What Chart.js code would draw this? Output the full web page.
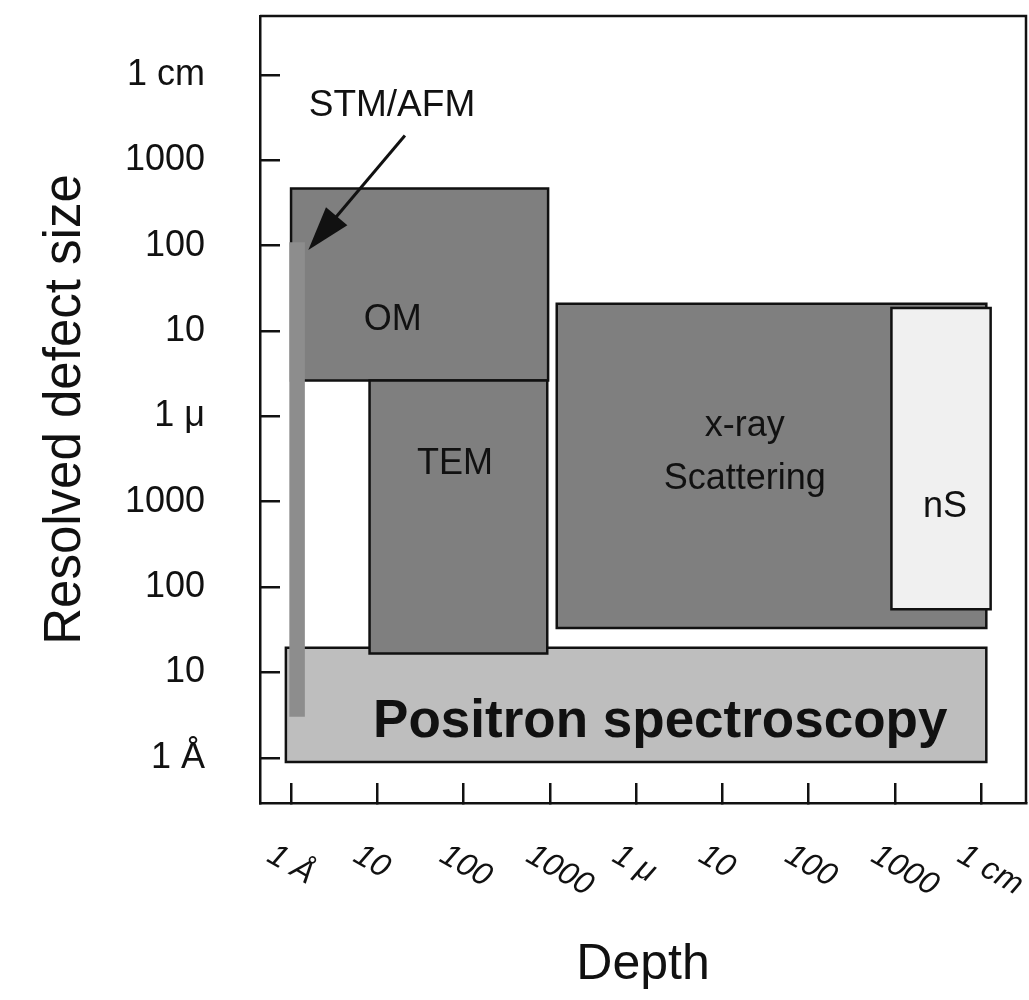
<!DOCTYPE html>
<html>
<head>
<meta charset="utf-8">
<script src="https://cdn.jsdelivr.net/npm/chart.js@4.4.0/dist/chart.umd.min.js"></script>
<style>
  html, body { margin: 0; padding: 0; background: #fff; }
  #wrap { width: 1029px; height: 1000px; }
</style>
</head>
<body>
<div id="wrap"><canvas id="methodsChart"></canvas></div>
<script>
// values are decades above 1 Angstrom (0 = 1 Å, 4 = 1 µm, 8 = 1 cm)
const depthTicks = ['1 Å', '10', '100', '1000', '1 μ', '10', '100', '1000', '1 cm'];
const sizeTicks = ['1 Å', '10', '100', '1000', '1 μ', '10', '100', '1000', '1 cm'];

// drawn in this order, last one on top
const methods = ['Positron spectroscopy', 'OM', 'TEM', 'x-ray Scattering', 'nS', 'STM/AFM'];
const depthMin = [-0.06, 0.0, 0.91, 3.08, 6.96, -0.02];
const depthMax = [8.06, 2.98, 2.97, 8.06, 8.11, 0.16];
const sizeMin = [-0.05, 4.42, 1.22, 1.52, 1.74, 0.48];
const sizeMax = [1.29, 6.67, 4.42, 5.32, 5.27, 6.04];

// label text for each box
const boxText = [['Positron spectroscopy'], ['OM'], ['TEM'], ['x-ray', 'Scattering'], ['nS'], ['STM/AFM']];

const fillColors = ['#bebebe', '#7f7f7f', '#7f7f7f', '#7f7f7f', '#f0f0f0', '#8d8d8d'];
const edgeColors = ['#111', '#111', '#111', '#111', '#111', 'rgba(0,0,0,0)'];
const fontFamily = '"Liberation Sans", Arial, Helvetica, sans-serif';
Chart.defaults.font.family = fontFamily;

// where the texts sit (data units) and the STM/AFM arrow
const textSpots = [
    { x: 4.28, y: 0.42, size: 53, bold: true },
    { x: 1.18, y: 5.13, size: 36 },
    { x: 1.90, y: 3.44, size: 36 },
    { x: 5.26, y: 3.58, size: 36, gap: 0.62 },
    { x: 7.58, y: 2.94, size: 36 },
    { x: 1.17, y: 7.64, size: 37 }
];
const arrowFrom = [1.32, 7.29];
const arrowTo = [0.20, 5.95];

const datasets = methods.map((name, i) => ({
    label: name,
    data: [
        { x: depthMin[i], y: sizeMin[i] },
        { x: depthMin[i], y: sizeMax[i] },
        { x: depthMax[i], y: sizeMax[i] },
        { x: depthMax[i], y: sizeMin[i] },
        { x: depthMin[i], y: sizeMin[i] }
    ],
    showLine: true,
    fill: 'shape',
    backgroundColor: fillColors[i],
    borderColor: edgeColors[i],
    borderWidth: 2.5,
    borderJoinStyle: 'miter',
    borderCapStyle: 'square',
    pointRadius: 0,
    pointHoverRadius: 0,
    tension: 0,
    order: methods.length - i
}));

const decorations = {
    id: 'decorations',
    afterDatasetsDraw(chart) {
        const { ctx, chartArea: a, scales: { x, y } } = chart;
        ctx.save();

        // top and right side of the frame
        ctx.strokeStyle = '#111';
        ctx.lineWidth = 2.5;
        ctx.beginPath();
        ctx.moveTo(a.left, a.top);
        ctx.lineTo(a.right, a.top);
        ctx.lineTo(a.right, a.bottom);
        ctx.stroke();

        // box labels
        ctx.fillStyle = '#111';
        ctx.textAlign = 'center';
        ctx.textBaseline = 'middle';
        textSpots.forEach((s, i) => {
            ctx.font = (s.bold ? 'bold ' : '') + s.size + 'px ' + fontFamily;
            const lines = boxText[i];
            lines.forEach((t, k) => {
                const off = s.gap ? (k - (lines.length - 1) / 2) * s.gap : 0;
                ctx.fillText(t, x.getPixelForValue(s.x), y.getPixelForValue(s.y - off));
            });
        });

        // arrow to the STM/AFM strip
        const x0 = x.getPixelForValue(arrowFrom[0]), y0 = y.getPixelForValue(arrowFrom[1]);
        const x1 = x.getPixelForValue(arrowTo[0]), y1 = y.getPixelForValue(arrowTo[1]);
        const ang = Math.atan2(y1 - y0, x1 - x0);
        const head = 44, half = 14;
        const c = Math.cos(ang), sn = Math.sin(ang);
        ctx.lineWidth = 3;
        ctx.beginPath();
        ctx.moveTo(x0, y0);
        ctx.lineTo(x1 - head * 0.8 * c, y1 - head * 0.8 * sn);
        ctx.stroke();
        ctx.beginPath();
        ctx.moveTo(x1, y1);
        ctx.lineTo(x1 - head * c + half * sn, y1 - head * sn - half * c);
        ctx.lineTo(x1 - head * c - half * sn, y1 - head * sn + half * c);
        ctx.closePath();
        ctx.fill();

        // slanted depth labels under the axis
        ctx.font = 'italic 32px ' + fontFamily;
        ctx.textAlign = 'left';
        ctx.textBaseline = 'top';
        depthTicks.forEach((t, i) => {
            ctx.save();
            ctx.translate(x.getPixelForValue(i) - 13, a.bottom + 36);
            ctx.rotate(Math.PI / 6);
            ctx.fillText(t, 0, 0);
            ctx.restore();
        });

        ctx.restore();
    }
};

const axisGrid = { drawOnChartArea: false, drawTicks: true, tickLength: -20, color: '#111', lineWidth: 2.5 };
const axisBorder = { display: true, color: '#111', width: 2.5 };

const methodsChart = new Chart(document.getElementById('methodsChart').getContext('2d'), {
    type: 'scatter',
    data: { datasets: datasets },
    options: {
        responsive: true,
        maintainAspectRatio: false,
        devicePixelRatio: 1,
        animation: false,
        layout: { padding: { top: 16, right: 3, left: 0, bottom: 0 } },
        plugins: {
            legend: { display: false },
            tooltip: { enabled: false }
        },
        scales: {
            x: {
                type: 'linear',
                min: -0.36,
                max: 8.52,
                afterBuildTicks: s => { s.ticks = depthTicks.map((t, i) => ({ value: i })); },
                afterFit: s => { s.height = 197; s.paddingLeft = 0; s.paddingRight = 0; },
                ticks: { display: false },
                grid: axisGrid,
                border: axisBorder,
                title: {
                    display: true,
                    text: 'Depth',
                    color: '#111',
                    font: { size: 50 },
                    padding: { top: 0, bottom: 5 }
                }
            },
            y: {
                type: 'linear',
                min: -0.53,
                max: 8.69,
                afterBuildTicks: s => { s.ticks = sizeTicks.map((t, i) => ({ value: i })); },
                afterFit: s => { s.width = 260; s.paddingTop = 0; s.paddingBottom = 0; },
                ticks: {
                    autoSkip: false,
                    callback: (v, i) => sizeTicks[i],
                    color: '#111',
                    font: { size: 36 },
                    padding: 75
                },
                grid: axisGrid,
                border: axisBorder,
                title: {
                    display: true,
                    text: 'Resolved defect size',
                    color: '#111',
                    font: { size: 51 },
                    padding: { top: 35, bottom: 0 }
                }
            }
        }
    },
    plugins: [decorations]
});
</script>
</body>
</html>
